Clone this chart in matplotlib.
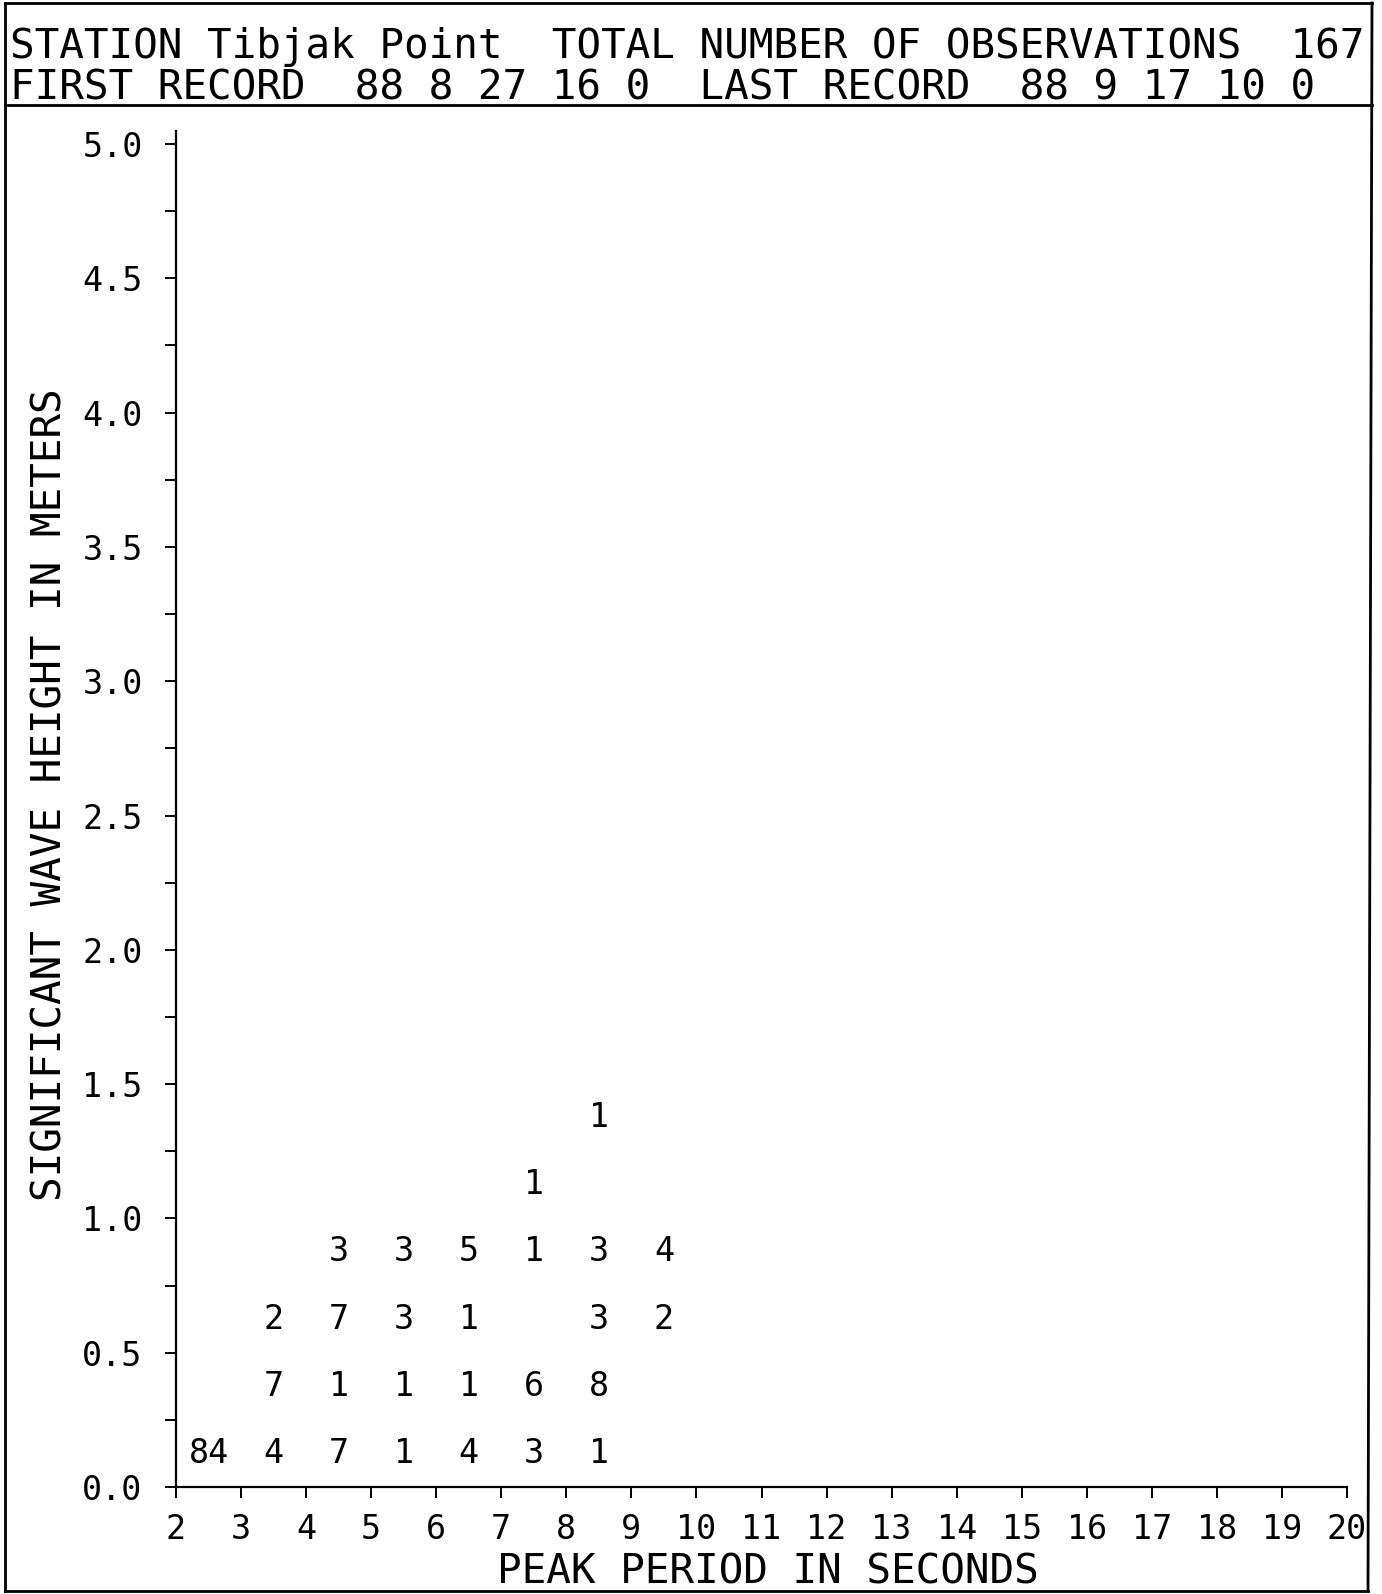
import matplotlib
matplotlib.use("Agg")
import matplotlib.pyplot as plt
from matplotlib.lines import Line2D
from matplotlib.ticker import MultipleLocator, FuncFormatter

# Joint frequency table: peak period bin centres (s), wave-height bin centres (m), counts
period_centres = [2.5, 3.5, 4.5, 5.5, 6.5, 7.5, 8.5,
                  3.5, 4.5, 5.5, 6.5, 7.5, 8.5,
                  3.5, 4.5, 5.5, 6.5, 8.5, 9.5,
                  4.5, 5.5, 6.5, 7.5, 8.5, 9.5,
                  7.5,
                  8.5]
height_centres = [0.125] * 7 + [0.375] * 6 + [0.625] * 6 + [0.875] * 6 + [1.125] + [1.375]
counts = [84, 4, 7, 1, 4, 3, 1,
          7, 1, 1, 1, 6, 8,
          2, 7, 3, 1, 3, 2,
          3, 3, 5, 1, 3, 4,
          1,
          1]

station = "Tibjak Point"
total_obs = 167
first_record = "88 8 27 16 0"
last_record = "88 9 17 10 0"

W, H = 1382, 1594
DPI = 100
fig = plt.figure(figsize=(W / DPI, H / DPI), dpi=DPI)
fig.patch.set_facecolor("white")

MONO = "DejaVu Sans Mono"
BIG = 29.5
SMALL = 24


def fx(px):
    return px / W


def fy(py):
    return 1 - py / H


# Outer frame and header divider
lw_frame = 2.0
for (x0, y0, x1, y1) in [(5, 3, 1372, 3), (5, 3, 5, 1591), (1372, 3, 1368, 1591),
                         (5, 1591, 1368, 1591), (5, 105, 1372, 105)]:
    fig.add_artist(Line2D([fx(x0), fx(x1)], [fy(y0), fy(y1)],
                          transform=fig.transFigure, color="black", lw=lw_frame))

# Header text
fig.text(fx(10), fy(58), f"STATION {station}  TOTAL NUMBER OF OBSERVATIONS  {total_obs}",
         family=MONO, fontsize=BIG, ha="left", va="baseline")
fig.text(fx(10), fy(99), f"FIRST RECORD  {first_record}  LAST RECORD  {last_record}",
         family=MONO, fontsize=BIG, ha="left", va="baseline")

# Plot area
x_left, x_right = 176, 1347
y_zero, y_five = 1487, 144
ymax = 5.05
y_top = y_zero - (y_zero - y_five) * ymax / 5.0
ax = fig.add_axes([fx(x_left), fy(y_zero), (x_right - x_left) / W, (y_zero - y_top) / H])
ax.set_xlim(2, 20)
ax.set_ylim(0, ymax)
for s in ("top", "right"):
    ax.spines[s].set_visible(False)
for s in ("left", "bottom"):
    ax.spines[s].set_linewidth(1.6)

ax.xaxis.set_major_locator(MultipleLocator(1))
ax.yaxis.set_major_locator(MultipleLocator(0.5))
ax.yaxis.set_minor_locator(MultipleLocator(0.25))
ax.yaxis.set_major_formatter(FuncFormatter(lambda v, p: f"{v:.1f}" if v <= 5.0 + 1e-9 else ""))
ax.xaxis.set_major_formatter(FuncFormatter(lambda v, p: f"{int(round(v))}"))
ax.tick_params(axis="both", which="both", direction="out", length=8, width=1.4,
               labelsize=SMALL)
ax.tick_params(axis="x", pad=11)
ax.tick_params(axis="y", pad=16)
for lab in ax.get_xticklabels() + ax.get_yticklabels():
    lab.set_family(MONO)

for x, y, c in zip(period_centres, height_centres, counts):
    ax.text(x, y, str(c), family=MONO, fontsize=SMALL, ha="center", va="center")

fig.text(fx(768), fy(1584), "PEAK PERIOD IN SECONDS", family=MONO, fontsize=BIG,
         ha="center", va="baseline")
fig.text(fx(51), fy(795), "SIGNIFICANT WAVE HEIGHT IN METERS", family=MONO, fontsize=BIG,
         ha="center", va="center", rotation=90)

fig.savefig("out.png", dpi=DPI, facecolor="white")
